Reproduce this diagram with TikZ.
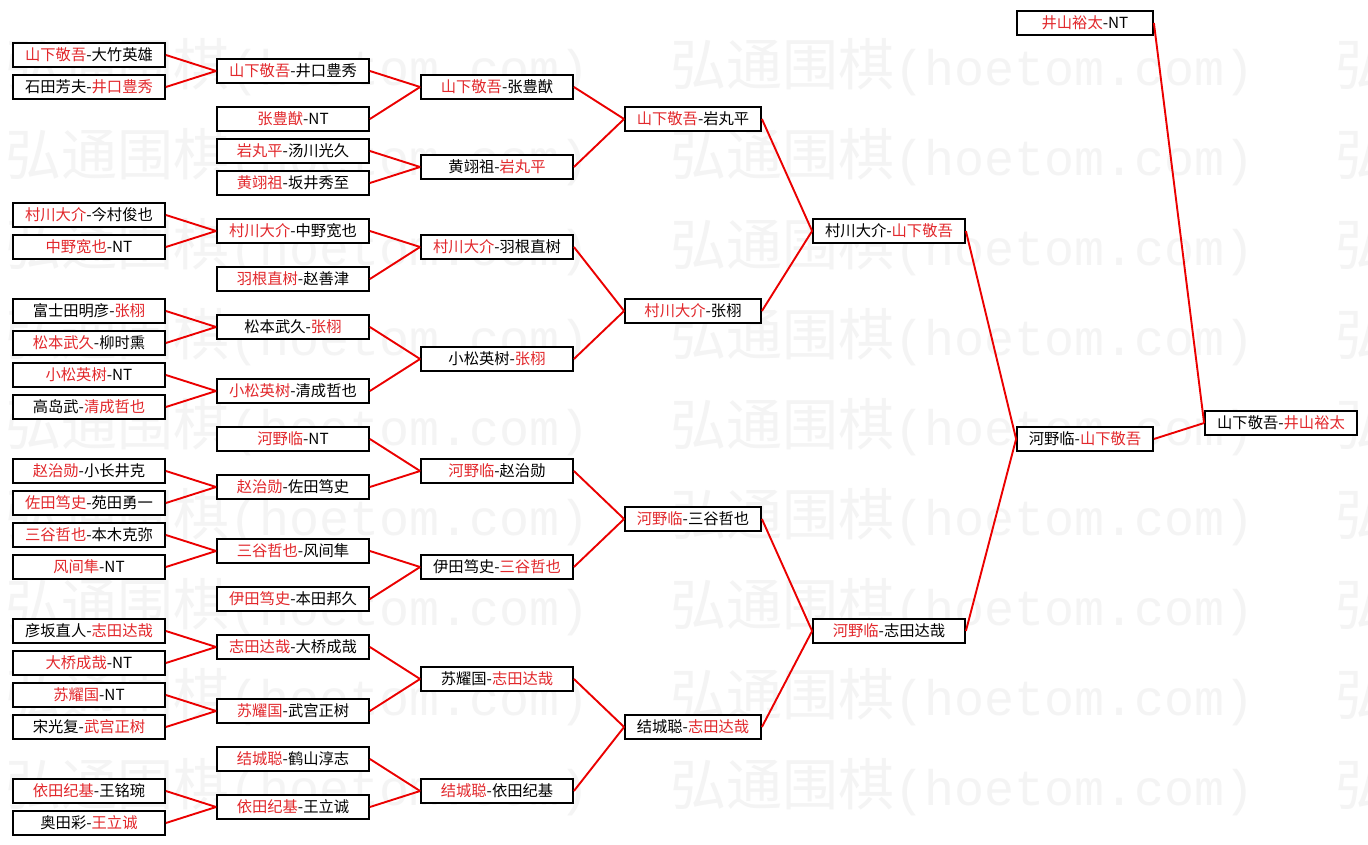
\documentclass[tikz,border=0pt]{standalone}
\usepackage{fontspec}
\newfontfamily\cjk{Noto Sans CJK SC}
\newfontfamily\wmmono{Liberation Mono}
\definecolor{tred}{RGB}{226,40,44}
\definecolor{lred}{RGB}{235,0,0}
\newcommand{\R}[1]{\textcolor{tred}{#1}}
\tikzset{
  bx/.style={draw=black, line width=1.8pt, fill=white, minimum height=23.5pt, inner sep=0pt,
             font=\cjk\fontsize{15.3}{16}\selectfont, text=black},
  wA/.style={bx, minimum width=152pt},
  wB/.style={bx, minimum width=136pt},
  ln/.style={draw=lred, line width=1.9pt},
  wm/.style={anchor=west, inner sep=0pt, text=black!4.5, font=\cjk\fontsize{56}{56}\selectfont}
}
\begin{document}
\begin{tikzpicture}[x=1pt,y=-1pt]
\useasboundingbox (0,0) rectangle (1368,845);
\fill[white] (0,0) rectangle (1368,845);
% watermark
\foreach \k in {0,...,8}{
  \foreach \j/\xx in {1/5,2/670,3/1335}{
    \node[wm] (wm-\k-\j) at (\xx,{67+90*\k}) {弘通围棋{\wmmono\fontsize{50}{50}\selectfont(hoetom.com)}};
  }
}
% column 1
\node[wA] (a1)  at (89,55)  {\R{山下敬吾}-大竹英雄};
\node[wA] (a2)  at (89,87)  {石田芳夫-\R{井口豊秀}};
\node[wA] (a3)  at (89,215) {\R{村川大介}-今村俊也};
\node[wA] (a4)  at (89,247) {\R{中野宽也}-NT};
\node[wA] (a5)  at (89,311) {富士田明彦-\R{张栩}};
\node[wA] (a6)  at (89,343) {\R{松本武久}-柳时熏};
\node[wA] (a7)  at (89,375) {\R{小松英树}-NT};
\node[wA] (a8)  at (89,407) {高岛武-\R{清成哲也}};
\node[wA] (a9)  at (89,471) {\R{赵治勋}-小长井克};
\node[wA] (a10) at (89,503) {\R{佐田笃史}-苑田勇一};
\node[wA] (a11) at (89,535) {\R{三谷哲也}-本木克弥};
\node[wA] (a12) at (89,567) {\R{风间隼}-NT};
\node[wA] (a13) at (89,631) {彦坂直人-\R{志田达哉}};
\node[wA] (a14) at (89,663) {\R{大桥成哉}-NT};
\node[wA] (a15) at (89,695) {\R{苏耀国}-NT};
\node[wA] (a16) at (89,727) {宋光复-\R{武宫正树}};
\node[wA] (a17) at (89,791) {\R{依田纪基}-王铭琬};
\node[wA] (a18) at (89,823) {奥田彩-\R{王立诚}};
% column 2
\node[wA] (b1)  at (293,71)  {\R{山下敬吾}-井口豊秀};
\node[wA] (b2)  at (293,119) {\R{张豊猷}-NT};
\node[wA] (b3)  at (293,151) {\R{岩丸平}-汤川光久};
\node[wA] (b4)  at (293,183) {\R{黄翊祖}-坂井秀至};
\node[wA] (b5)  at (293,231) {\R{村川大介}-中野宽也};
\node[wA] (b6)  at (293,279) {\R{羽根直树}-赵善津};
\node[wA] (b7)  at (293,327) {松本武久-\R{张栩}};
\node[wA] (b8)  at (293,391) {\R{小松英树}-清成哲也};
\node[wA] (b9)  at (293,439) {\R{河野临}-NT};
\node[wA] (b10) at (293,487) {\R{赵治勋}-佐田笃史};
\node[wA] (b11) at (293,551) {\R{三谷哲也}-风间隼};
\node[wA] (b12) at (293,599) {\R{伊田笃史}-本田邦久};
\node[wA] (b13) at (293,647) {\R{志田达哉}-大桥成哉};
\node[wA] (b14) at (293,711) {\R{苏耀国}-武宫正树};
\node[wA] (b15) at (293,759) {\R{结城聪}-鹤山淳志};
\node[wA] (b16) at (293,807) {\R{依田纪基}-王立诚};
% column 3
\node[wA] (c1) at (497,87)  {\R{山下敬吾}-张豊猷};
\node[wA] (c2) at (497,167) {黄翊祖-\R{岩丸平}};
\node[wA] (c3) at (497,247) {\R{村川大介}-羽根直树};
\node[wA] (c4) at (497,359) {小松英树-\R{张栩}};
\node[wA] (c5) at (497,471) {\R{河野临}-赵治勋};
\node[wA] (c6) at (497,567) {伊田笃史-\R{三谷哲也}};
\node[wA] (c7) at (497,679) {苏耀国-\R{志田达哉}};
\node[wA] (c8) at (497,791) {\R{结城聪}-依田纪基};
% column 4
\node[wB] (d1) at (693,119) {\R{山下敬吾}-岩丸平};
\node[wB] (d2) at (693,311) {\R{村川大介}-张栩};
\node[wB] (d3) at (693,519) {\R{河野临}-三谷哲也};
\node[wB] (d4) at (693,727) {结城聪-\R{志田达哉}};
% column 5
\node[wA] (e1) at (889,231) {村川大介-\R{山下敬吾}};
\node[wA] (e2) at (889,631) {\R{河野临}-志田达哉};
% column 6
\node[wB] (f0) at (1085,23)  {\R{井山裕太}-NT};
\node[wB] (f1) at (1085,439) {河野临-\R{山下敬吾}};
% column 7
\node[wA] (g1) at (1281,423) {山下敬吾-\R{井山裕太}};
% connectors
\foreach \s/\t in {a1/b1,a2/b1,a3/b5,a4/b5,a5/b7,a6/b7,a7/b8,a8/b8,a9/b10,a10/b10,
                   a11/b11,a12/b11,a13/b13,a14/b13,a15/b14,a16/b14,a17/b16,a18/b16,
                   b1/c1,b2/c1,b3/c2,b4/c2,b5/c3,b6/c3,b7/c4,b8/c4,b9/c5,b10/c5,
                   b11/c6,b12/c6,b13/c7,b14/c7,b15/c8,b16/c8,
                   c1/d1,c2/d1,c3/d2,c4/d2,c5/d3,c6/d3,c7/d4,c8/d4,
                   d1/e1,d2/e1,d3/e2,d4/e2,e1/f1,e2/f1,f0/g1,f1/g1}{
  \draw[ln] (\s.east) -- (\t.west);
}
\end{tikzpicture}
\end{document}
